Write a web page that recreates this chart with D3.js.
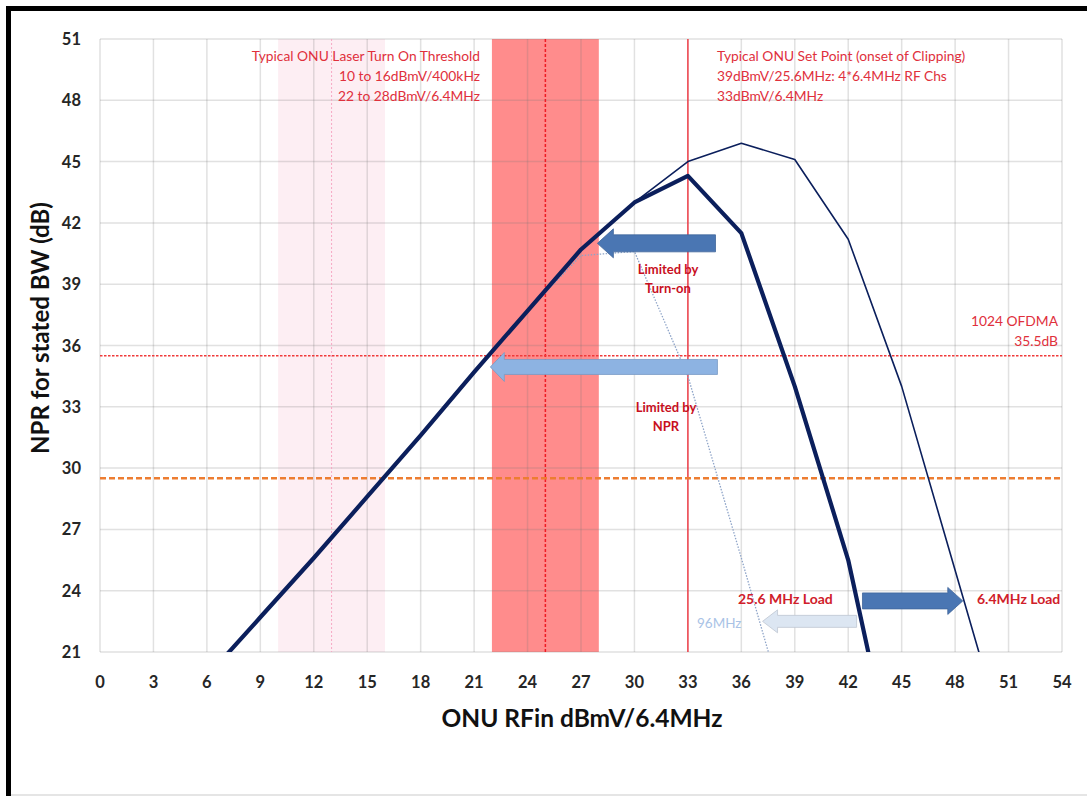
<!DOCTYPE html>
<html><head><meta charset="utf-8">
<script src="https://cdn.jsdelivr.net/npm/d3@7"></script>
<style>
html,body{margin:0;padding:0;background:#fff;}
svg{display:block;font-family:Lato,"Open Sans",sans-serif;}
</style></head>
<body>
<svg id="c" width="1087" height="796"></svg>
<script>
// ---- data ----
const xTicks = [0,3,6,9,12,15,18,21,24,27,30,33,36,39,42,45,48,51,54];
const yTicks = [21,24,27,30,33,36,39,42,45,48,51];
const load25x = [6,9,12,15,18,21,24,27,30,33,36,39,42,45];
const load25y = [19.8,22.7,25.6,28.6,31.6,34.7,37.7,40.7,43.0,44.3,41.5,34.0,25.5,13.5];
const load64x = [6,9,12,15,18,21,24,27,30,33,36,39,42,45,48,51];
const load64y = [19.8,22.7,25.6,28.6,31.6,34.7,37.7,40.7,43.0,45.0,45.9,45.1,41.2,34.0,25.0,16.0];
const load96x = [6,9,12,15,18,21,24,27,30,33,36,39];
const load96y = [19.8,22.7,25.6,28.6,31.6,34.7,37.7,40.4,40.6,34.5,25.6,16.5];
const turnOnBand400k = [10,16];
const turnOnBand64 = [22,28];
const turnOnMid400k = 13, turnOnMid64 = 25;
const setPoint = 33;
const ofdmaLimit = 35.5;
const orangeLimit = 29.5;
const xTitle = "ONU RFin dBmV/6.4MHz";
const yTitle = "NPR for stated BW (dB)";

// ---- layout ----
const svg = d3.select("#c");
const L = 100, R = 1062, T = 39, B = 652;
const x = d3.scaleLinear().domain([0,54]).range([L,R]);
const y = d3.scaleLinear().domain([21,51]).range([B,T]);

// frame
svg.append("rect").attr("x",0).attr("y",0).attr("width",1087).attr("height",796).attr("fill","#fff");
svg.append("line").attr("x1",6).attr("x2",1087).attr("y1",8.5).attr("y2",8.5).attr("stroke","#000").attr("stroke-width",5);
svg.append("line").attr("x1",8.5).attr("x2",8.5).attr("y1",6).attr("y2",796).attr("stroke","#000").attr("stroke-width",5);
svg.append("line").attr("x1",11).attr("x2",1087).attr("y1",795).attr("y2",795).attr("stroke","#ddd").attr("stroke-width",1.5);

const defs = svg.append("defs");
defs.append("clipPath").attr("id","plot").append("rect").attr("x",L).attr("y",T).attr("width",R-L).attr("height",B-T);

// bands
svg.append("rect").attr("x",x(turnOnBand400k[0])).attr("y",T).attr("width",x(turnOnBand400k[1])-x(turnOnBand400k[0])).attr("height",B-T).attr("fill","#fdeef3");
svg.append("rect").attr("x",x(turnOnBand64[0])).attr("y",T).attr("width",x(turnOnBand64[1])-x(turnOnBand64[0])).attr("height",B-T).attr("fill","#ff8c8c");

// grid
const grid = svg.append("g");
grid.selectAll(".vx").data(xTicks).join("line").attr("x1",d=>x(d)).attr("x2",d=>x(d)).attr("y1",T).attr("y2",B)
  .attr("stroke","rgba(120,120,120,0.22)").attr("stroke-width",1.5);
grid.selectAll(".hy").data(yTicks).join("line").attr("x1",L).attr("x2",R).attr("y1",d=>y(d)).attr("y2",d=>y(d))
  .attr("stroke","rgba(120,120,120,0.22)").attr("stroke-width",1.5);

// vertical markers
svg.append("line").attr("x1",x(turnOnMid400k)).attr("x2",x(turnOnMid400k)).attr("y1",T).attr("y2",B)
  .attr("stroke","#f7a8c4").attr("stroke-width",1).attr("stroke-dasharray","2,2");
svg.append("line").attr("x1",x(turnOnMid64)).attr("x2",x(turnOnMid64)).attr("y1",T).attr("y2",B)
  .attr("stroke","#ee1c24").attr("stroke-width",1.5).attr("stroke-dasharray","3,2");
svg.append("line").attr("x1",x(setPoint)).attr("x2",x(setPoint)).attr("y1",T).attr("y2",B)
  .attr("stroke","#f0404a").attr("stroke-width",1.5);

// horizontal limits
svg.append("line").attr("x1",L).attr("x2",R).attr("y1",y(ofdmaLimit)).attr("y2",y(ofdmaLimit))
  .attr("stroke","#f03a3a").attr("stroke-width",1.5).attr("stroke-dasharray","2.5,1.5");
svg.append("line").attr("x1",L).attr("x2",R).attr("y1",y(orangeLimit)).attr("y2",y(orangeLimit))
  .attr("stroke","#ed7d31").attr("stroke-width",2.5).attr("stroke-dasharray","6,3");

// curves
const line = d3.line().x(d=>x(d[0])).y(d=>y(d[1]));
const cg = svg.append("g").attr("clip-path","url(#plot)");
cg.append("path").attr("d",line(d3.zip(load96x,load96y))).attr("fill","none")
  .attr("stroke","#8ea4c8").attr("stroke-width",1.3).attr("stroke-dasharray","1.5,1.5");
cg.append("path").attr("d",line(d3.zip(load64x,load64y))).attr("fill","none")
  .attr("stroke","#0b1f5c").attr("stroke-width",1.6).attr("stroke-linejoin","round");
cg.append("path").attr("d",line(d3.zip(load25x,load25y))).attr("fill","none")
  .attr("stroke","#0b1f5c").attr("stroke-width",4.2).attr("stroke-linejoin","round");

// block arrows (annotations, in data units)
function arrow(tail, tip, yc, bodyH, headH, headL, fill){
  const dir = tip > tail ? 1 : -1;
  const xt = x(tail), xp = x(tip), yy = y(yc), xb = xp - dir*headL;
  const p = [[xt,yy-bodyH],[xb,yy-bodyH],[xb,yy-headH],[xp,yy],[xb,yy+headH],[xb,yy+bodyH],[xt,yy+bodyH]];
  svg.append("path").attr("d","M"+p.map(q=>q.join(",")).join("L")+"Z").attr("fill",fill)
    .attr("stroke", d3.color(fill).darker(0.4)).attr("stroke-width",0.8);
}
arrow(34.55, 27.92, 41.0, 8.5, 14.5, 16, "#4a76b3");
arrow(34.66, 21.91, 34.95, 7.5, 14.5, 14, "#8db3e2");
arrow(42.8, 48.43, 23.5, 8, 13.5, 15, "#4a76b3");
arrow(42.47, 37.19, 22.5, 6, 11.5, 15, "#dce6f2");

// axes labels
const tx = svg.append("g").attr("font-weight","bold").attr("font-size",16.5).attr("fill","#262626");
tx.selectAll("text").data(xTicks).join("text").attr("x",d=>x(d)).attr("y",688).attr("text-anchor","middle").text(d=>d);
const ty = svg.append("g").attr("font-weight","bold").attr("font-size",16.5).attr("fill","#262626");
ty.selectAll("text").data(yTicks).join("text").attr("x",81).attr("y",d=>y(d)+6).attr("text-anchor","end").text(d=>d);

svg.append("text").attr("x",582).attr("y",727).attr("text-anchor","middle").attr("font-weight","bold")
  .attr("font-size",24.5).attr("fill","#111").text(xTitle);
svg.append("text").attr("transform","translate(49,328) rotate(-90)").attr("text-anchor","middle").attr("font-weight","bold")
  .attr("font-size",24).attr("fill","#111").text(yTitle);

// annotation text
const red = "#e0303c";
function txt(xp, yp, s, opt){
  opt = opt||{};
  svg.append("text").attr("x",xp).attr("y",yp).text(s)
    .attr("text-anchor",opt.anchor||"start").attr("font-size",opt.size||13.8)
    .attr("font-weight",opt.bold?"bold":"normal").attr("fill",opt.color||red);
}
txt(480,61,"Typical ONU Laser Turn On Threshold",{anchor:"end"});
txt(480,81,"10 to 16dBmV/400kHz",{anchor:"end"});
txt(480,101,"22 to 28dBmV/6.4MHz",{anchor:"end"});
txt(717,61,"Typical ONU Set Point (onset of Clipping)");
txt(717,81,"39dBmV/25.6MHz: 4*6.4MHz RF Chs");
txt(717,101,"33dBmV/6.4MHz");
txt(1058,326,"1024 OFDMA",{anchor:"end"});
txt(1058,346,"35.5dB",{anchor:"end"});
txt(668,274,"Limited by",{anchor:"middle",bold:true,color:"#c8101e",size:13});
txt(668,293,"Turn-on",{anchor:"middle",bold:true,color:"#c8101e",size:13});
txt(666,412,"Limited by",{anchor:"middle",bold:true,color:"#c8101e",size:13});
txt(666,431,"NPR",{anchor:"middle",bold:true,color:"#c8101e",size:13});
txt(738,604,"25.6 MHz Load",{bold:true,color:"#d0202a",size:14});
txt(977,604,"6.4MHz Load",{bold:true,color:"#d0202a",size:14});
txt(697,628,"96MHz",{color:"#a9c3e6",size:13.5});
</script>
</body></html>
